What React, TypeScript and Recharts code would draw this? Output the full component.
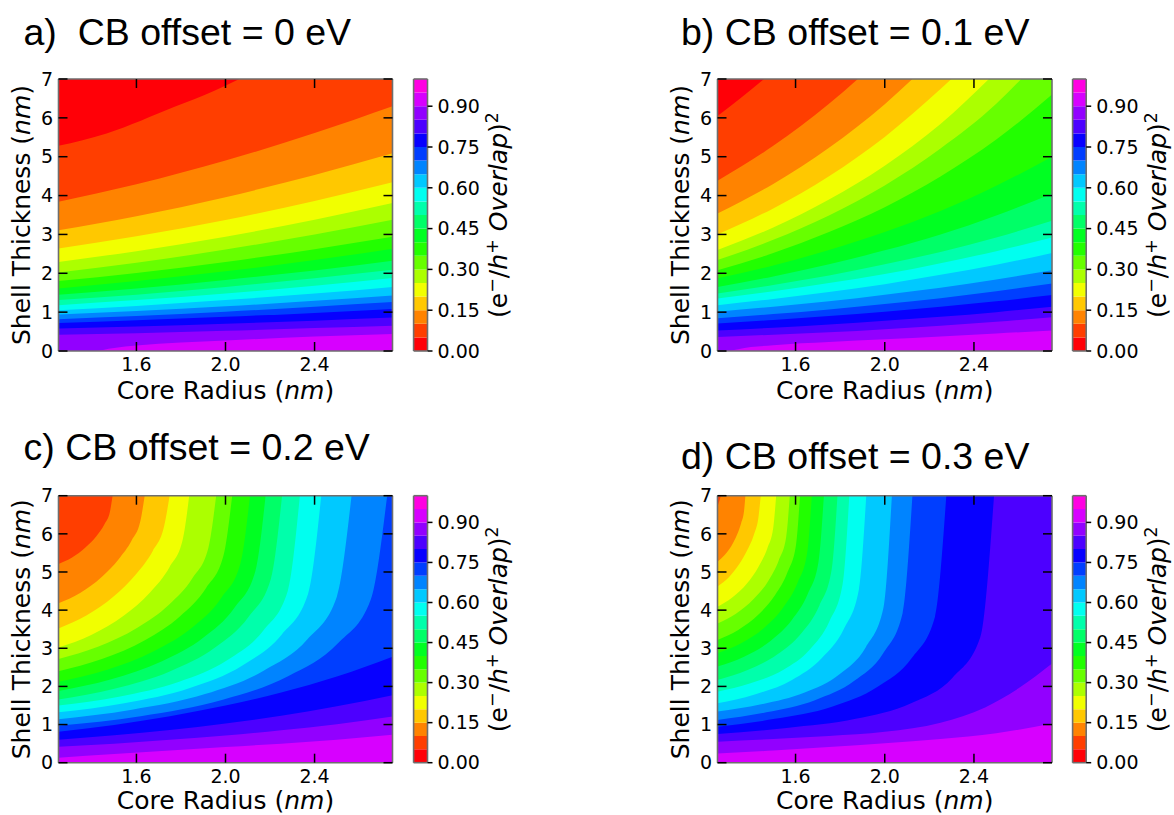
import React from 'react';
import { ComposedChart, Area, XAxis, YAxis, BarChart, Bar } from 'recharts';

type Pt = [number, number];
type Contour = [number, Pt[]];

const X_DOMAIN: [number, number] = [1.25, 2.75];
const Y_DOMAIN: [number, number] = [0, 7];
const CB_DOMAIN: [number, number] = [0, 1];
const X_TICKS = [1.6, 2.0, 2.4];
const Y_TICKS = [0, 1, 2, 3, 4, 5, 6, 7];
const CB_TICKS = [0, 0.15, 0.3, 0.45, 0.6, 0.75, 0.9];
const CB_EDGES = [0, 0.05, 0.1, 0.15, 0.2, 0.25, 0.3, 0.35, 0.4, 0.45, 0.5, 0.55, 0.6, 0.65, 0.7, 0.75, 0.8, 0.85, 0.9, 0.95, 1.0];
const BAND_COLORS = [
  '#ff0007', '#ff3e00', '#ff8300', '#ffc800', '#f1ff00', '#acff00', '#67ff00', '#22ff00', '#00ff22', '#00ff67',
  '#00ffab', '#00fff0', '#00c9ff', '#0084ff', '#003eff', '#0700ff', '#4c00ff', '#9200ff', '#d700ff', '#ff00e2',
];

const TITLES = ['a)\u00a0 CB offset = 0 eV', 'b) CB offset = 0.1 eV', 'c) CB offset = 0.2 eV', 'd) CB offset = 0.3 eV'];
const X_LABEL = 'Core Radius';
const Y_LABEL = 'Shell Thickness';
const UNIT = 'nm';

const FULL: Pt[] = [[1.25, 0], [2.75, 0]];

const PANEL_A: Contour[] = [
  [0.95, FULL],
  [0.90, [[1.25, 0], [1.40, 0], [1.5, 0.08], [1.6, 0.14], [2.0, 0.27], [2.4, 0.37], [2.75, 0.44]]],
  [0.85, [[1.25, 0.42], [1.6, 0.46], [2.0, 0.52], [2.4, 0.59], [2.75, 0.65]]],
  [0.80, [[1.25, 0.58], [1.6, 0.63], [2.0, 0.70], [2.4, 0.78], [2.75, 0.86]]],
  [0.75, [[1.25, 0.72], [1.6, 0.79], [2.0, 0.88], [2.4, 0.98], [2.75, 1.08]]],
  [0.70, [[1.25, 0.82], [1.6, 0.90], [2.0, 1.01], [2.4, 1.14], [2.75, 1.26]]],
  [0.65, [[1.25, 0.94], [1.6, 1.03], [2.0, 1.15], [2.4, 1.29], [2.75, 1.43]]],
  [0.60, [[1.25, 1.05], [1.6, 1.16], [2.0, 1.31], [2.4, 1.48], [2.75, 1.65]]],
  [0.55, [[1.25, 1.18], [1.6, 1.31], [2.0, 1.48], [2.4, 1.68], [2.75, 1.88]]],
  [0.50, [[1.25, 1.31], [1.6, 1.45], [2.0, 1.65], [2.4, 1.87], [2.75, 2.09]]],
  [0.45, [[1.25, 1.45], [1.6, 1.61], [2.0, 1.83], [2.4, 2.07], [2.75, 2.32]]],
  [0.40, [[1.25, 1.61], [1.6, 1.80], [2.0, 2.05], [2.4, 2.34], [2.75, 2.63]]],
  [0.35, [[1.25, 1.80], [1.6, 2.01], [2.0, 2.29], [2.4, 2.62], [2.75, 2.94]]],
  [0.30, [[1.25, 2.02], [1.6, 2.27], [2.0, 2.61], [2.4, 3.00], [2.75, 3.38]]],
  [0.25, [[1.25, 2.29], [1.6, 2.57], [2.0, 2.94], [2.4, 3.38], [2.75, 3.81]]],
  [0.20, [[1.25, 2.64], [1.6, 2.95], [2.0, 3.37], [2.4, 3.86], [2.75, 4.34]]],
  [0.15, [[1.25, 3.11], [1.6, 3.47], [2.0, 3.96], [2.4, 4.53], [2.75, 5.09]]],
  [0.10, [[1.25, 3.84], [1.6, 4.29], [2.0, 4.90], [2.4, 5.61], [2.75, 6.30]]],
  [0.05, [[1.25, 5.28], [1.466, 5.6], [1.774, 6.29], [1.95, 6.7], [2.062, 7]]],
];

const PANEL_B: Contour[] = [
  [0.95, FULL],
  [0.90, [[1.25, 0], [1.284, 0], [1.4, 0.1], [1.5, 0.15], [1.75, 0.23], [2.0, 0.3], [2.25, 0.37], [2.5, 0.45], [2.75, 0.53]]],
  [0.85, [[1.25, 0.36], [1.5, 0.42], [1.75, 0.48], [2.0, 0.56], [2.25, 0.65], [2.5, 0.75], [2.75, 0.87]]],
  [0.80, [[1.25, 0.53], [1.5, 0.60], [1.75, 0.68], [2.0, 0.78], [2.25, 0.88], [2.5, 1.00], [2.75, 1.14]]],
  [0.75, [[1.25, 0.71], [1.5, 0.80], [1.75, 0.90], [2.0, 1.01], [2.25, 1.14], [2.5, 1.28], [2.75, 1.44]]],
  [0.70, [[1.25, 0.84], [1.5, 0.95], [1.75, 1.07], [2.0, 1.21], [2.25, 1.36], [2.5, 1.54], [2.75, 1.74]]],
  [0.65, [[1.25, 1.01], [1.5, 1.14], [1.75, 1.28], [2.0, 1.45], [2.25, 1.63], [2.5, 1.84], [2.75, 2.08]]],
  [0.60, [[1.25, 1.18], [1.5, 1.34], [1.75, 1.52], [2.0, 1.72], [2.25, 1.96], [2.5, 2.22], [2.75, 2.52]]],
  [0.55, [[1.25, 1.35], [1.5, 1.54], [1.75, 1.75], [2.0, 1.98], [2.25, 2.26], [2.5, 2.57], [2.75, 2.92]]],
  [0.50, [[1.25, 1.48], [1.5, 1.70], [1.75, 1.94], [2.0, 2.23], [2.25, 2.55], [2.5, 2.92], [2.75, 3.35]]],
  [0.45, [[1.25, 1.65], [1.5, 1.92], [1.75, 2.23], [2.0, 2.59], [2.25, 3.00], [2.5, 3.49], [2.75, 4.05]]],
  [0.40, [[1.25, 1.87], [1.5, 2.20], [1.75, 2.60], [2.0, 3.06], [2.25, 3.60], [2.5, 4.25], [2.75, 5.00]]],
  [0.35, [[1.25, 2.08], [1.5, 2.52], [1.75, 3.06], [2.0, 3.70], [2.25, 4.49], [2.5, 5.44], [2.75, 6.60]]],
  [0.30, [[1.25, 2.34], [1.5, 2.86], [1.75, 3.49], [2.0, 4.26], [2.25, 5.21], [2.5, 6.36], [2.612, 7]]],
  [0.25, [[1.25, 2.60], [1.5, 3.18], [1.75, 3.90], [2.0, 4.77], [2.25, 5.84], [2.467, 7]]],
  [0.20, [[1.25, 3.00], [1.5, 3.67], [1.75, 4.50], [2.0, 5.51], [2.25, 6.74], [2.299, 7]]],
  [0.15, [[1.25, 3.54], [1.5, 4.30], [1.75, 5.23], [2.0, 6.35], [2.124, 7]]],
  [0.10, [[1.25, 4.38], [1.5, 5.28], [1.75, 6.36], [1.879, 7]]],
  [0.05, [[1.25, 6.05], [1.35, 6.49], [1.459, 7]]],
];

const PANEL_C: Contour[] = [
  [0.95, FULL],
  [0.90, [[1.25, 0.13], [1.5, 0.23], [1.75, 0.32], [2.0, 0.41], [2.25, 0.50], [2.5, 0.60], [2.75, 0.73]]],
  [0.85, [[1.25, 0.42], [1.5, 0.50], [1.75, 0.60], [2.0, 0.71], [2.25, 0.85], [2.5, 1.01], [2.75, 1.21]]],
  [0.80, [[1.25, 0.60], [1.5, 0.72], [1.75, 0.86], [2.0, 1.03], [2.25, 1.23], [2.5, 1.48], [2.75, 1.77]]],
  [0.75, [[1.25, 0.81], [1.5, 0.99], [1.75, 1.22], [2.0, 1.50], [2.25, 1.84], [2.5, 2.26], [2.75, 2.78]]],
  [0.70, [[1.25, 0.97], [1.619, 1.22], [1.988, 1.65], [2.283, 2.27], [2.505, 3.13], [2.652, 4.27], [2.726, 7]]],
  [0.65, [[1.25, 1.14], [1.579, 1.39], [1.908, 1.80], [2.171, 2.41], [2.369, 3.24], [2.5, 4.35], [2.566, 7]]],
  [0.60, [[1.25, 1.32], [1.545, 1.56], [1.84, 1.96], [2.076, 2.55], [2.253, 3.36], [2.371, 4.43], [2.43, 7]]],
  [0.55, [[1.25, 1.50], [1.521, 1.73], [1.792, 2.12], [2.009, 2.69], [2.171, 3.47], [2.28, 4.51], [2.334, 7]]],
  [0.50, [[1.25, 1.66], [1.501, 1.94], [1.752, 2.40], [1.953, 3.02], [2.103, 3.82], [2.204, 4.82], [2.254, 7]]],
  [0.45, [[1.25, 1.88], [1.483, 2.18], [1.715, 2.66], [1.901, 3.28], [2.041, 4.07], [2.134, 5.02], [2.18, 7]]],
  [0.40, [[1.25, 2.12], [1.465, 2.43], [1.68, 2.93], [1.852, 3.55], [1.981, 4.32], [2.067, 5.22], [2.11, 7]]],
  [0.35, [[1.25, 2.40], [1.445, 2.72], [1.64, 3.22], [1.796, 3.84], [1.913, 4.58], [1.991, 5.43], [2.03, 7]]],
  [0.30, [[1.25, 2.72], [1.427, 3.04], [1.604, 3.54], [1.746, 4.14], [1.852, 4.84], [1.923, 5.63], [1.958, 7]]],
  [0.25, [[1.25, 3.02], [1.397, 3.35], [1.544, 3.86], [1.661, 4.46], [1.749, 5.13], [1.808, 5.85], [1.837, 7]]],
  [0.20, [[1.25, 3.52], [1.375, 3.86], [1.50, 4.37], [1.599, 4.95], [1.674, 5.56], [1.724, 6.19], [1.749, 7]]],
  [0.15, [[1.25, 4.18], [1.347, 4.45], [1.444, 4.87], [1.521, 5.34], [1.579, 5.83], [1.618, 6.34], [1.637, 7]]],
  [0.10, [[1.25, 5.21], [1.311, 5.38], [1.372, 5.65], [1.420, 5.94], [1.457, 6.26], [1.481, 6.58], [1.493, 7]]],
];

const PANEL_D: Contour[] = [
  [0.95, FULL],
  [0.90, [[1.25, 0.24], [1.5, 0.32], [1.75, 0.41], [2.0, 0.51], [2.25, 0.62], [2.5, 0.77], [2.75, 1.03]]],
  [0.85, [[1.25, 0.55], [1.5, 0.62], [1.75, 0.70], [2.0, 0.81], [2.25, 1.05], [2.45, 1.45], [2.6, 1.95], [2.75, 2.6]]],
  [0.80, [[1.25, 0.75], [1.56, 0.91], [1.87, 1.15], [2.118, 1.56], [2.304, 2.23], [2.428, 3.28], [2.49, 7]]],
  [0.75, [[1.25, 0.94], [1.507, 1.15], [1.763, 1.47], [1.968, 1.99], [2.122, 2.75], [2.225, 3.82], [2.276, 7]]],
  [0.70, [[1.25, 1.12], [1.469, 1.32], [1.687, 1.64], [1.862, 2.14], [1.993, 2.87], [2.08, 3.92], [2.124, 7]]],
  [0.65, [[1.25, 1.34], [1.446, 1.53], [1.641, 1.84], [1.797, 2.32], [1.915, 3.03], [1.993, 4.03], [2.032, 7]]],
  [0.60, [[1.25, 1.56], [1.417, 1.79], [1.584, 2.17], [1.717, 2.74], [1.817, 3.51], [1.884, 4.54], [1.917, 7]]],
  [0.55, [[1.25, 1.86], [1.398, 2.08], [1.546, 2.44], [1.664, 2.97], [1.752, 3.71], [1.811, 4.68], [1.841, 7]]],
  [0.50, [[1.25, 2.17], [1.385, 2.43], [1.519, 2.84], [1.627, 3.40], [1.707, 4.12], [1.761, 5.03], [1.788, 7]]],
  [0.45, [[1.25, 2.52], [1.369, 2.78], [1.489, 3.20], [1.584, 3.75], [1.655, 4.43], [1.703, 5.27], [1.727, 7]]],
  [0.40, [[1.25, 2.87], [1.356, 3.13], [1.462, 3.55], [1.546, 4.08], [1.61, 4.73], [1.652, 5.50], [1.673, 7]]],
  [0.35, [[1.25, 3.22], [1.343, 3.48], [1.435, 3.89], [1.509, 4.40], [1.565, 5.01], [1.602, 5.71], [1.62, 7]]],
  [0.30, [[1.25, 3.65], [1.331, 3.90], [1.412, 4.29], [1.477, 4.76], [1.525, 5.31], [1.558, 5.92], [1.574, 7]]],
  [0.25, [[1.25, 4.09], [1.316, 4.33], [1.382, 4.70], [1.434, 5.14], [1.474, 5.63], [1.5, 6.16], [1.513, 7]]],
  [0.20, [[1.25, 4.62], [1.299, 4.85], [1.347, 5.20], [1.386, 5.60], [1.415, 6.01], [1.434, 6.45], [1.444, 7]]],
  [0.15, [[1.25, 5.27], [1.281, 5.44], [1.313, 5.69], [1.338, 5.98], [1.356, 6.28], [1.369, 6.60], [1.375, 7]]],
  [0.10, [[1.25, 6.72], [1.258, 6.86], [1.265, 7]]],
];

const FONT = "'DejaVu Sans', sans-serif";
const TITLE_FONT = "'Liberation Sans', Arial, Helvetica, sans-serif";
const FRAME = { stroke: '#6e6e6e', strokeWidth: 1.6 };
const TICK_COLOR = '#000';
const TICK_W = 1.5;
const TICK_LEN = 9;
const CB_TICK_LEN = 5;
const TICK_FS = 19;
const X_TICK_GAP = 6.6;
const Y_TICK_GAP = 5.5;
const CB_TICK_GAP = 10;
const AXIS_T = 1; // thickness of the axis band, keeps Recharts drawing the axes

const levelColor = (level: number) => BAND_COLORS[Math.round(level / 0.05) - 1];

type Box = { left: number; top: number; width: number; height: number };
type Plot = { x0: number; x1: number; y0: number; y1: number };

const axisMargin = (b: Box, p: Plot) => ({
  left: p.x0 - b.left - AXIS_T,
  top: p.y0 - b.top - AXIS_T,
  right: b.left + b.width - p.x1 - AXIS_T,
  bottom: b.top + b.height - p.y1 - AXIS_T,
});
const plainMargin = (b: Box, p: Plot) => ({
  left: p.x0 - b.left,
  top: p.y0 - b.top,
  right: b.left + b.width - p.x1,
  bottom: b.top + b.height - p.y1,
});

// tick renderers: Recharts gives the tick position, we draw the inward mark and the label
const bottomTick = (p: any) => (
  <g>
    <line x1={p.x} x2={p.x} y1={p.y - X_TICK_GAP} y2={p.y - X_TICK_GAP - TICK_LEN} stroke={TICK_COLOR} strokeWidth={TICK_W} />
    <text x={p.x} y={p.y} dy="0.71em" textAnchor="middle" fontFamily={FONT} fontSize={TICK_FS} fill="#000">
      {Number(p.payload.value).toFixed(1)}
    </text>
  </g>
);
const leftTick = (p: any) => (
  <g>
    <line x1={p.x + Y_TICK_GAP} x2={p.x + Y_TICK_GAP + TICK_LEN} y1={p.y} y2={p.y} stroke={TICK_COLOR} strokeWidth={TICK_W} />
    <text x={p.x} y={p.y} dy="0.355em" textAnchor="end" fontFamily={FONT} fontSize={TICK_FS} fill="#000">
      {p.payload.value}
    </text>
  </g>
);
const topTick = (p: any) => (
  <line x1={p.x} x2={p.x} y1={p.y} y2={p.y + TICK_LEN} stroke={TICK_COLOR} strokeWidth={TICK_W} />
);
const rightTick = (p: any) => (
  <line x1={p.x} x2={p.x - TICK_LEN} y1={p.y} y2={p.y} stroke={TICK_COLOR} strokeWidth={TICK_W} />
);
const cbTick = (p: any) => (
  <g>
    <line x1={p.x - CB_TICK_GAP} x2={p.x - CB_TICK_GAP + CB_TICK_LEN} y1={p.y} y2={p.y} stroke={TICK_COLOR} strokeWidth={TICK_W} />
    <text x={p.x} y={p.y} dy="0.355em" textAnchor="start" fontFamily={FONT} fontSize={TICK_FS} fill="#000">
      {Number(p.payload.value).toFixed(2)}
    </text>
  </g>
);

function makeXLabel(dy: number) {
  return (props: any) => {
    const vb = props.viewBox || {};
    const x = vb.x + vb.width / 2;
    const y = vb.y + dy;
    return (
      <text x={x} y={y} textAnchor="middle" fontFamily={FONT} fontSize={25} fill="#000">
        {X_LABEL} (<tspan fontStyle="italic">{UNIT}</tspan>)
      </text>
    );
  };
}

const yLabel = (props: any) => {
  const vb = props.viewBox || {};
  const x = vb.x + (vb.width || 0) - 28.5;
  const y = vb.y + vb.height / 2;
  return (
    <text x={x} y={y} transform={`rotate(-90 ${x} ${y})`} textAnchor="middle" fontFamily={FONT} fontSize={25} fill="#000">
      {Y_LABEL} (<tspan fontStyle="italic">{UNIT}</tspan>)
    </text>
  );
};

const cbLabel = (props: any) => {
  const vb = props.viewBox || {};
  const x = vb.x + 79.5;
  const y = vb.y + vb.height / 2;
  return (
    <text x={x} y={y} transform={`rotate(-90 ${x} ${y})`} textAnchor="middle" fontFamily={FONT} fontSize={25} fill="#000" style={{ whiteSpace: 'pre' }}>
      (e<tspan dy={-9} fontSize={17.5}>−</tspan>
      <tspan dy={9}>/</tspan>
      <tspan fontStyle="italic">h</tspan>
      <tspan dy={-9} fontSize={17.5}>+</tspan>
      <tspan dy={9} fontStyle="italic"> Overlap</tspan>
      <tspan>)</tspan>
      <tspan dy={-9} fontSize={17.5}>2</tspan>
    </text>
  );
};

function ContourPanel({ contours, box, plot, xLabelDy }: { contours: Contour[]; box: Box; plot: Plot; xLabelDy: number }) {
  return (
    <>
      <div style={{ position: 'absolute', left: box.left, top: box.top }}>
        <ComposedChart width={box.width} height={box.height} margin={plainMargin(box, plot)}>
          <XAxis xAxisId="b" type="number" dataKey="x" domain={X_DOMAIN} allowDataOverflow hide />
          <YAxis yAxisId="l" type="number" domain={Y_DOMAIN} allowDataOverflow hide />
          {contours.map(([level, pts]) => (
            <Area
              key={level}
              xAxisId="b"
              yAxisId="l"
              data={pts.map(([x, t]) => ({ x, t }))}
              dataKey="t"
              type="monotone"
              baseValue={7}
              stroke="none"
              fill={levelColor(level)}
              fillOpacity={1}
              dot={false}
              activeDot={false}
              isAnimationActive={false}
            />
          ))}
        </ComposedChart>
      </div>
      <div style={{ position: 'absolute', left: box.left, top: box.top }}>
        <ComposedChart width={box.width} height={box.height} margin={axisMargin(box, plot)}>
          <XAxis xAxisId="b" type="number" dataKey="x" domain={X_DOMAIN} ticks={X_TICKS} interval={0} allowDataOverflow height={AXIS_T}
            tick={bottomTick} tickLine={false} tickSize={0} tickMargin={X_TICK_GAP} axisLine={FRAME} label={makeXLabel(xLabelDy)} />
          <XAxis xAxisId="t" orientation="top" type="number" dataKey="x" domain={X_DOMAIN} ticks={X_TICKS} interval={0} allowDataOverflow height={AXIS_T}
            tick={topTick} tickLine={false} tickSize={0} tickMargin={0} axisLine={FRAME} />
          <YAxis yAxisId="l" type="number" domain={Y_DOMAIN} ticks={Y_TICKS} interval={0} allowDataOverflow width={AXIS_T}
            tick={leftTick} tickLine={false} tickSize={0} tickMargin={Y_TICK_GAP} axisLine={FRAME} label={yLabel} />
          <YAxis yAxisId="r" orientation="right" type="number" domain={Y_DOMAIN} ticks={Y_TICKS} interval={0} allowDataOverflow width={AXIS_T}
            tick={rightTick} tickLine={false} tickSize={0} tickMargin={0} axisLine={FRAME} />
        </ComposedChart>
      </div>
    </>
  );
}

function Colorbar({ box, plot }: { box: Box; plot: Plot }) {
  const row: Record<string, number | string> = { name: 'cb' };
  BAND_COLORS.forEach((_, i) => {
    row[`b${i}`] = CB_EDGES[i + 1] - CB_EDGES[i];
  });
  return (
    <>
      <div style={{ position: 'absolute', left: box.left, top: box.top }}>
        <BarChart width={box.width} height={box.height} margin={plainMargin(box, plot)} data={[row]} barCategoryGap={0} barGap={0}>
          <XAxis xAxisId="b" dataKey="name" type="category" hide />
          <YAxis yAxisId="r" type="number" domain={CB_DOMAIN} allowDataOverflow hide />
          {BAND_COLORS.map((c, i) => (
            <Bar key={i} dataKey={`b${i}`} stackId="cb" fill={c} xAxisId="b" yAxisId="r" isAnimationActive={false} />
          ))}
        </BarChart>
      </div>
      <div style={{ position: 'absolute', left: box.left, top: box.top }}>
        <ComposedChart width={box.width} height={box.height} margin={axisMargin(box, plot)}>
          <XAxis xAxisId="b" type="number" domain={CB_DOMAIN} ticks={[0.5]} allowDataOverflow height={AXIS_T} tick={false} tickLine={false} axisLine={FRAME} />
          <XAxis xAxisId="t" orientation="top" type="number" domain={CB_DOMAIN} ticks={[0.5]} allowDataOverflow height={AXIS_T} tick={false} tickLine={false} axisLine={FRAME} />
          <YAxis yAxisId="l" type="number" domain={CB_DOMAIN} ticks={[0.5]} allowDataOverflow width={AXIS_T} tick={false} tickLine={false} axisLine={FRAME} />
          <YAxis yAxisId="r" orientation="right" type="number" domain={CB_DOMAIN} allowDataOverflow ticks={CB_TICKS} interval={0} width={AXIS_T}
            tick={cbTick} tickLine={false} tickSize={0} tickMargin={CB_TICK_GAP} axisLine={FRAME} label={cbLabel} />
        </ComposedChart>
      </div>
    </>
  );
}

const TOP_ROW = { y0: 79, y1: 351 };
const BOT_ROW = { y0: 495.7, y1: 762.7 };
const LEFT_COL = { x0: 58.5, x1: 392.5, cb0: 413.6, cb1: 427.5 };
const RIGHT_COL = { x0: 717.5, x1: 1052, cb0: 1072.6, cb1: 1086.2 };

export default function App() {
  return (
    <div style={{ position: 'absolute', left: 0, top: 0, width: 1174, height: 815, background: '#fff', overflow: 'hidden' }}>
      <svg width={1174} height={815} style={{ position: 'absolute', left: 0, top: 0 }}>
        <text x={23.5} y={45} fontFamily={TITLE_FONT} fontSize={37.5} fill="#000">{TITLES[0]}</text>
        <text x={681} y={45} fontFamily={TITLE_FONT} fontSize={37.5} fill="#000">{TITLES[1]}</text>
        <text x={23.5} y={460} fontFamily={TITLE_FONT} fontSize={37.5} fill="#000">{TITLES[2]}</text>
        <text x={681} y={469} fontFamily={TITLE_FONT} fontSize={37.5} fill="#000">{TITLES[3]}</text>
      </svg>
      <ContourPanel contours={PANEL_A} xLabelDy={48}
        box={{ left: 0, top: 60, width: 400, height: 360 }}
        plot={{ x0: LEFT_COL.x0, x1: LEFT_COL.x1, ...TOP_ROW }} />
      <Colorbar box={{ left: 400, top: 60, width: 130, height: 360 }}
        plot={{ x0: LEFT_COL.cb0, x1: LEFT_COL.cb1, ...TOP_ROW }} />
      <ContourPanel contours={PANEL_B} xLabelDy={48}
        box={{ left: 660, top: 60, width: 400, height: 360 }}
        plot={{ x0: RIGHT_COL.x0, x1: RIGHT_COL.x1, ...TOP_ROW }} />
      <Colorbar box={{ left: 1060, top: 60, width: 114, height: 360 }}
        plot={{ x0: RIGHT_COL.cb0, x1: RIGHT_COL.cb1, ...TOP_ROW }} />
      <ContourPanel contours={PANEL_C} xLabelDy={46.5}
        box={{ left: 0, top: 476, width: 400, height: 339 }}
        plot={{ x0: LEFT_COL.x0, x1: LEFT_COL.x1, ...BOT_ROW }} />
      <Colorbar box={{ left: 400, top: 476, width: 130, height: 339 }}
        plot={{ x0: LEFT_COL.cb0, x1: LEFT_COL.cb1, ...BOT_ROW }} />
      <ContourPanel contours={PANEL_D} xLabelDy={46.5}
        box={{ left: 660, top: 476, width: 400, height: 339 }}
        plot={{ x0: RIGHT_COL.x0, x1: RIGHT_COL.x1, ...BOT_ROW }} />
      <Colorbar box={{ left: 1060, top: 476, width: 114, height: 339 }}
        plot={{ x0: RIGHT_COL.cb0, x1: RIGHT_COL.cb1, ...BOT_ROW }} />
    </div>
  );
}
